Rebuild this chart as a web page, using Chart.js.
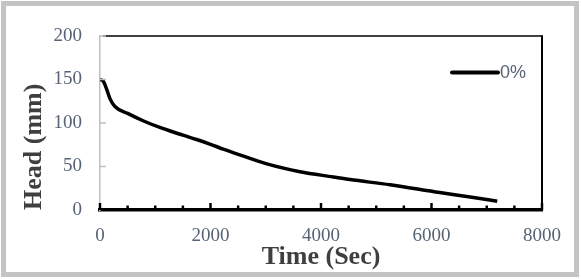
<!DOCTYPE html>
<html>
<head>
<meta charset="utf-8">
<script src="https://cdn.jsdelivr.net/npm/chart.js@4.4.1/dist/chart.umd.min.js"></script>
<style>
  html, body { margin: 0; padding: 0; background: #ffffff; }
  #frame {
    position: absolute; left: 1px; top: 1px; width: 578px; height: 276px;
    box-sizing: border-box; border: 5px solid #c4c4c4;
  }
  #wrap { position: absolute; left: 0; top: 0; width: 581px; height: 279px; }
</style>
</head>
<body>
<div id="frame"></div>
<div id="wrap"><canvas id="chart" width="581" height="279"></canvas></div>
<script>
// data
const seriesLabel = '0%';
const timeSec = [0, 60, 120, 180, 270, 500, 800, 1120, 1500, 1750, 2000, 2230, 2500, 3020, 3620, 4220, 4525, 5250, 6150, 6700, 7190];
const headMm  = [150, 148, 139, 128, 119, 111, 102, 94, 86, 81, 75.5, 70, 64, 53, 44, 38, 35, 29, 20, 15, 10];
const xTicks = [0, 2000, 4000, 6000, 8000];
const yTicks = [0, 50, 100, 150, 200];

const tickColor = '#576375';
const titleColor = '#3f3f3f';

// inward tick marks, top/right frame lines and legend
const framePlugin = {
    id: 'frameLines',
    afterDraw: function(chart) {
        const ctx = chart.ctx;
        const area = chart.chartArea;
        const xs = chart.scales.x;
        const ys = chart.scales.y;
        ctx.save();

        // top and right border lines
        ctx.strokeStyle = '#000';
        ctx.lineWidth = 1.5;
        ctx.beginPath();
        ctx.moveTo(area.left + 3, area.top);
        ctx.lineTo(area.right, area.top);
        ctx.stroke();
        ctx.lineWidth = 2;
        ctx.beginPath();
        ctx.moveTo(area.right, area.top - 0.75);
        ctx.lineTo(area.right, area.bottom);
        ctx.stroke();

        // y ticks (gray, inside)
        ctx.strokeStyle = '#bfbfbf';
        ctx.lineWidth = 1.5;
        yTicks.slice(1).forEach(v => {
            const py = ys.getPixelForValue(v);
            ctx.beginPath();
            ctx.moveTo(area.left, py);
            ctx.lineTo(area.left + 6, py);
            ctx.stroke();
        });

        // x ticks (black, inside), minor every 500
        ctx.strokeStyle = '#000';
        ctx.lineWidth = 2.5;
        for (let v = xs.min; v <= xs.max; v += 500) {
            const px = xs.getPixelForValue(v);
            const len = (v % 2000 === 0) ? 7 : 4.5;
            ctx.beginPath();
            ctx.moveTo(px, area.bottom);
            ctx.lineTo(px, area.bottom - len);
            ctx.stroke();
        }

        // legend
        ctx.lineWidth = 4;
        ctx.lineCap = 'round';
        ctx.beginPath();
        ctx.moveTo(452, 72.5);
        ctx.lineTo(498, 72.5);
        ctx.stroke();
        ctx.fillStyle = tickColor;
        ctx.font = '18px "Liberation Sans", Arial, sans-serif';
        ctx.textBaseline = 'middle';
        ctx.textAlign = 'left';
        ctx.fillText(chart.data.datasets[0].label, 500, 73);
        ctx.restore();
    }
};

const ctx = document.getElementById('chart').getContext('2d');

new Chart(ctx, {
    type: 'line',
    data: {
        datasets: [{
            label: seriesLabel,
            data: timeSec.map((t, i) => ({ x: t, y: headMm[i] })),
            borderColor: '#000',
            borderWidth: 3.5,
            pointRadius: 0,
            fill: false,
            cubicInterpolationMode: 'monotone'
        }]
    },
    options: {
        responsive: false,
        animation: false,
        layout: { padding: { top: 36, right: 39, left: 0, bottom: 0 } },
        plugins: {
            legend: { display: false },
            tooltip: { enabled: false }
        },
        scales: {
            x: {
                type: 'linear',
                min: 0,
                max: 8000,
                afterFit: s => { s.height = 69; },
                afterBuildTicks: s => { s.ticks = xTicks.map(v => ({ value: v })); },
                grid: { display: false, drawTicks: false },
                border: { display: true, color: '#000', width: 3.5 },
                ticks: {
                    padding: 15,
                    color: tickColor,
                    callback: v => String(v),
                    font: { family: '"Liberation Serif", "Times New Roman", serif', size: 19 }
                },
                title: {
                    display: true,
                    text: 'Time (Sec)',
                    color: titleColor,
                    padding: { top: 0, bottom: 6 },
                    font: { family: '"Liberation Serif", "Times New Roman", serif', size: 26, weight: 'bold' }
                }
            },
            y: {
                min: 0,
                max: 200,
                afterFit: s => { s.width = 100; },
                afterBuildTicks: s => { s.ticks = yTicks.map(v => ({ value: v })); },
                grid: { display: false, drawTicks: false },
                border: { display: true, color: '#bfbfbf', width: 1.5 },
                ticks: {
                    padding: 18,
                    color: tickColor,
                    callback: v => String(v),
                    font: { family: '"Liberation Serif", "Times New Roman", serif', size: 19 }
                },
                title: {
                    display: true,
                    text: 'Head (mm)',
                    align: 'start',
                    color: titleColor,
                    padding: { top: 19, bottom: 0 },
                    font: { family: '"Liberation Serif", "Times New Roman", serif', size: 26, weight: 'bold' }
                }
            }
        }
    },
    plugins: [framePlugin]
});
</script>
</body>
</html>
